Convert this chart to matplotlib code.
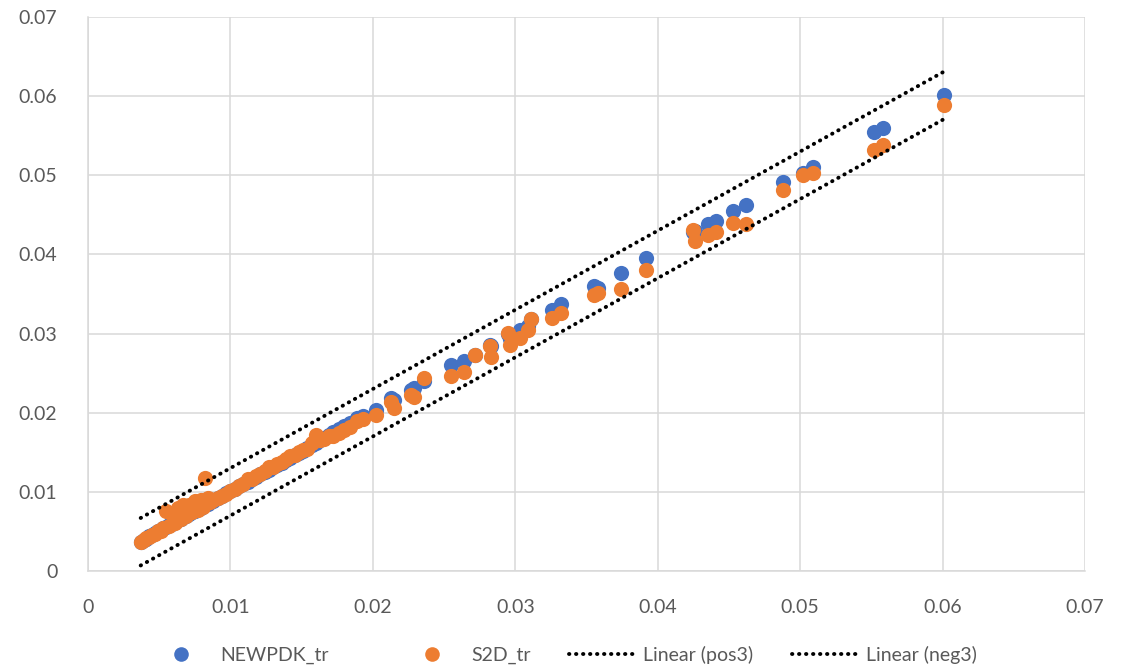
import numpy as np
import matplotlib
matplotlib.use('Agg')
import matplotlib.pyplot as plt
from matplotlib.lines import Line2D

plt.rcParams['font.family'] = ['Lato', 'DejaVu Sans']

# x values (shared by both series) and the two series
x_vals = [0.0037, 0.0039, 0.0041, 0.0043, 0.0045, 0.0047, 0.0049, 0.0051, 0.0053, 0.0055,
          0.0057, 0.0059, 0.0061, 0.0063, 0.0065, 0.0067, 0.0069, 0.0071, 0.0073, 0.0075,
          0.0077, 0.0079, 0.0081, 0.0082, 0.0084, 0.0086, 0.0088, 0.0091, 0.0094, 0.0097,
          0.0100, 0.0103, 0.0106, 0.0109, 0.0112, 0.0115, 0.0118, 0.0121, 0.0124, 0.0127,
          0.0130, 0.0133, 0.0136, 0.0139, 0.0142, 0.0145, 0.0148, 0.0151, 0.0154, 0.0157,
          0.0160, 0.0163, 0.0166, 0.0169, 0.0172, 0.0176, 0.0180, 0.0184, 0.0189, 0.0193,
          0.0202, 0.0213, 0.0215, 0.0227, 0.0229, 0.0236,
          0.0255, 0.0264, 0.0272, 0.0282, 0.0283, 0.0295, 0.0296, 0.0303, 0.0309, 0.0311,
          0.0326, 0.0332, 0.0355, 0.0358, 0.0374, 0.0392, 0.0425, 0.0426, 0.0435, 0.0441,
          0.0453, 0.0462, 0.0488, 0.0502, 0.0509, 0.0552, 0.0558, 0.0601]

newpdk_tr = [0.0037, 0.0039, 0.0041, 0.0044, 0.0046, 0.0048, 0.0050, 0.0052, 0.0054, 0.0056,
             0.0058, 0.0060, 0.0062, 0.0064, 0.0066, 0.0068, 0.0070, 0.0072, 0.0074, 0.0076,
             0.0078, 0.0080, 0.0082, 0.0083, 0.0085, 0.0087, 0.0089, 0.0092, 0.0095, 0.0098,
             0.0101, 0.0104, 0.0107, 0.0110, 0.0113, 0.0116, 0.0119, 0.0122, 0.0125, 0.0128,
             0.0131, 0.0134, 0.0137, 0.0140, 0.0143, 0.0146, 0.0149, 0.0152, 0.0155, 0.0159,
             0.0162, 0.0165, 0.0168, 0.0172, 0.0176, 0.0179, 0.0183, 0.0187, 0.0193, 0.0196,
             0.0204, 0.0218, 0.0216, 0.0229, 0.0231, 0.0240,
             0.0260, 0.0265, 0.0273, 0.0286, 0.0284, 0.0300, 0.0293, 0.0305, 0.0310, 0.0318,
             0.0330, 0.0337, 0.0360, 0.0358, 0.0377, 0.0395, 0.0428, 0.0430, 0.0438, 0.0442,
             0.0455, 0.0463, 0.0491, 0.0503, 0.0511, 0.0555, 0.0560, 0.0602]

s2d_tr = [0.0037, 0.0039, 0.0042, 0.0043, 0.0045, 0.0047, 0.0050, 0.0051, 0.0054, 0.0076,
          0.0057, 0.0072, 0.0061, 0.0079, 0.0066, 0.0083, 0.0069, 0.0084, 0.0074, 0.0088,
          0.0077, 0.0090, 0.0081, 0.0117, 0.0092, 0.0087, 0.0090, 0.0092, 0.0095, 0.0097,
          0.0101, 0.0104, 0.0107, 0.0110, 0.0116, 0.0116, 0.0120, 0.0123, 0.0126, 0.0132,
          0.0132, 0.0135, 0.0138, 0.0141, 0.0145, 0.0147, 0.0150, 0.0153, 0.0154, 0.0162,
          0.0172, 0.0166, 0.0167, 0.0170, 0.0171, 0.0175, 0.0178, 0.0182, 0.0190, 0.0192,
          0.0197, 0.0214, 0.0206, 0.0223, 0.0220, 0.0244,
          0.0246, 0.0252, 0.0273, 0.0284, 0.0271, 0.0301, 0.0285, 0.0295, 0.0305, 0.0318,
          0.0320, 0.0326, 0.0349, 0.0351, 0.0356, 0.0380, 0.0431, 0.0417, 0.0425, 0.0428,
          0.0440, 0.0439, 0.0482, 0.0500, 0.0503, 0.0532, 0.0538, 0.0589]

offset = 0.003  # pos3 / neg3 band
ticks = [0, 0.01, 0.02, 0.03, 0.04, 0.05, 0.06, 0.07]
tick_labels = ['0', '0.01', '0.02', '0.03', '0.04', '0.05', '0.06', '0.07']

blue = '#4472C4'
orange = '#ED7D31'
grid_col = '#D9D9D9'
txt_col = '#595959'

fig = plt.figure(figsize=(11.3, 6.68), dpi=100)
ax = fig.add_axes([88/1130, 97/668, (1085-88)/1130, (571-17)/668])

x = np.array(x_vals)
ax.scatter(x, newpdk_tr, s=120, color=blue, linewidths=0, zorder=3)
ax.scatter(x, s2d_tr, s=120, color=orange, linewidths=0, zorder=4)

# linear trendlines of the +/- band
pos3 = x + offset
neg3 = x - offset
xl = np.array([x.min(), x.max()])
dots = dict(color='black', linewidth=2.8, linestyle=(0, (0.1, 1.7)),
            dash_capstyle='round', zorder=5)
ax.plot(xl, np.polyval(np.polyfit(x, pos3, 1), xl), **dots)
ax.plot(xl, np.polyval(np.polyfit(x, neg3, 1), xl), **dots)

ax.set_xlim(0, 0.07)
ax.set_ylim(0, 0.07)
ax.set_xticks(ticks)
ax.set_xticklabels(tick_labels)
ax.set_yticks(ticks)
ax.set_yticklabels(tick_labels)
ax.tick_params(length=0, labelsize=14, labelcolor=txt_col)
ax.tick_params(axis='x', pad=20)
ax.tick_params(axis='y', pad=22)
ax.grid(True, color=grid_col, linewidth=1.1, zorder=0)
ax.set_axisbelow(True)
for sp in ax.spines.values():
    sp.set_color(grid_col)
    sp.set_linewidth(1.1)
ax.spines['top'].set_visible(False)
ax.spines['right'].set_visible(False)

h_blue = Line2D([], [], linestyle='none', marker='o', markersize=10.5,
                markerfacecolor=blue, markeredgewidth=0)
h_orange = Line2D([], [], linestyle='none', marker='o', markersize=10.5,
                  markerfacecolor=orange, markeredgewidth=0)
h_pos = Line2D([], [], **dots)
h_neg = Line2D([], [], **dots)

leg_kw = dict(frameon=False, fontsize=14, labelcolor=txt_col, handlelength=3.6,
              handletextpad=0.2, borderpad=0, borderaxespad=0, loc='center left')
fig.legend([h_blue], ['NEWPDK_tr'], bbox_to_anchor=(146/1130, 13/668), **leg_kw)
fig.legend([h_orange, h_pos, h_neg], ['S2D_tr', 'Linear (pos3)', 'Linear (neg3)'],
           ncol=3, columnspacing=2.0, bbox_to_anchor=(397/1130, 13/668), **leg_kw)

plt.savefig('out.png', dpi=100)
